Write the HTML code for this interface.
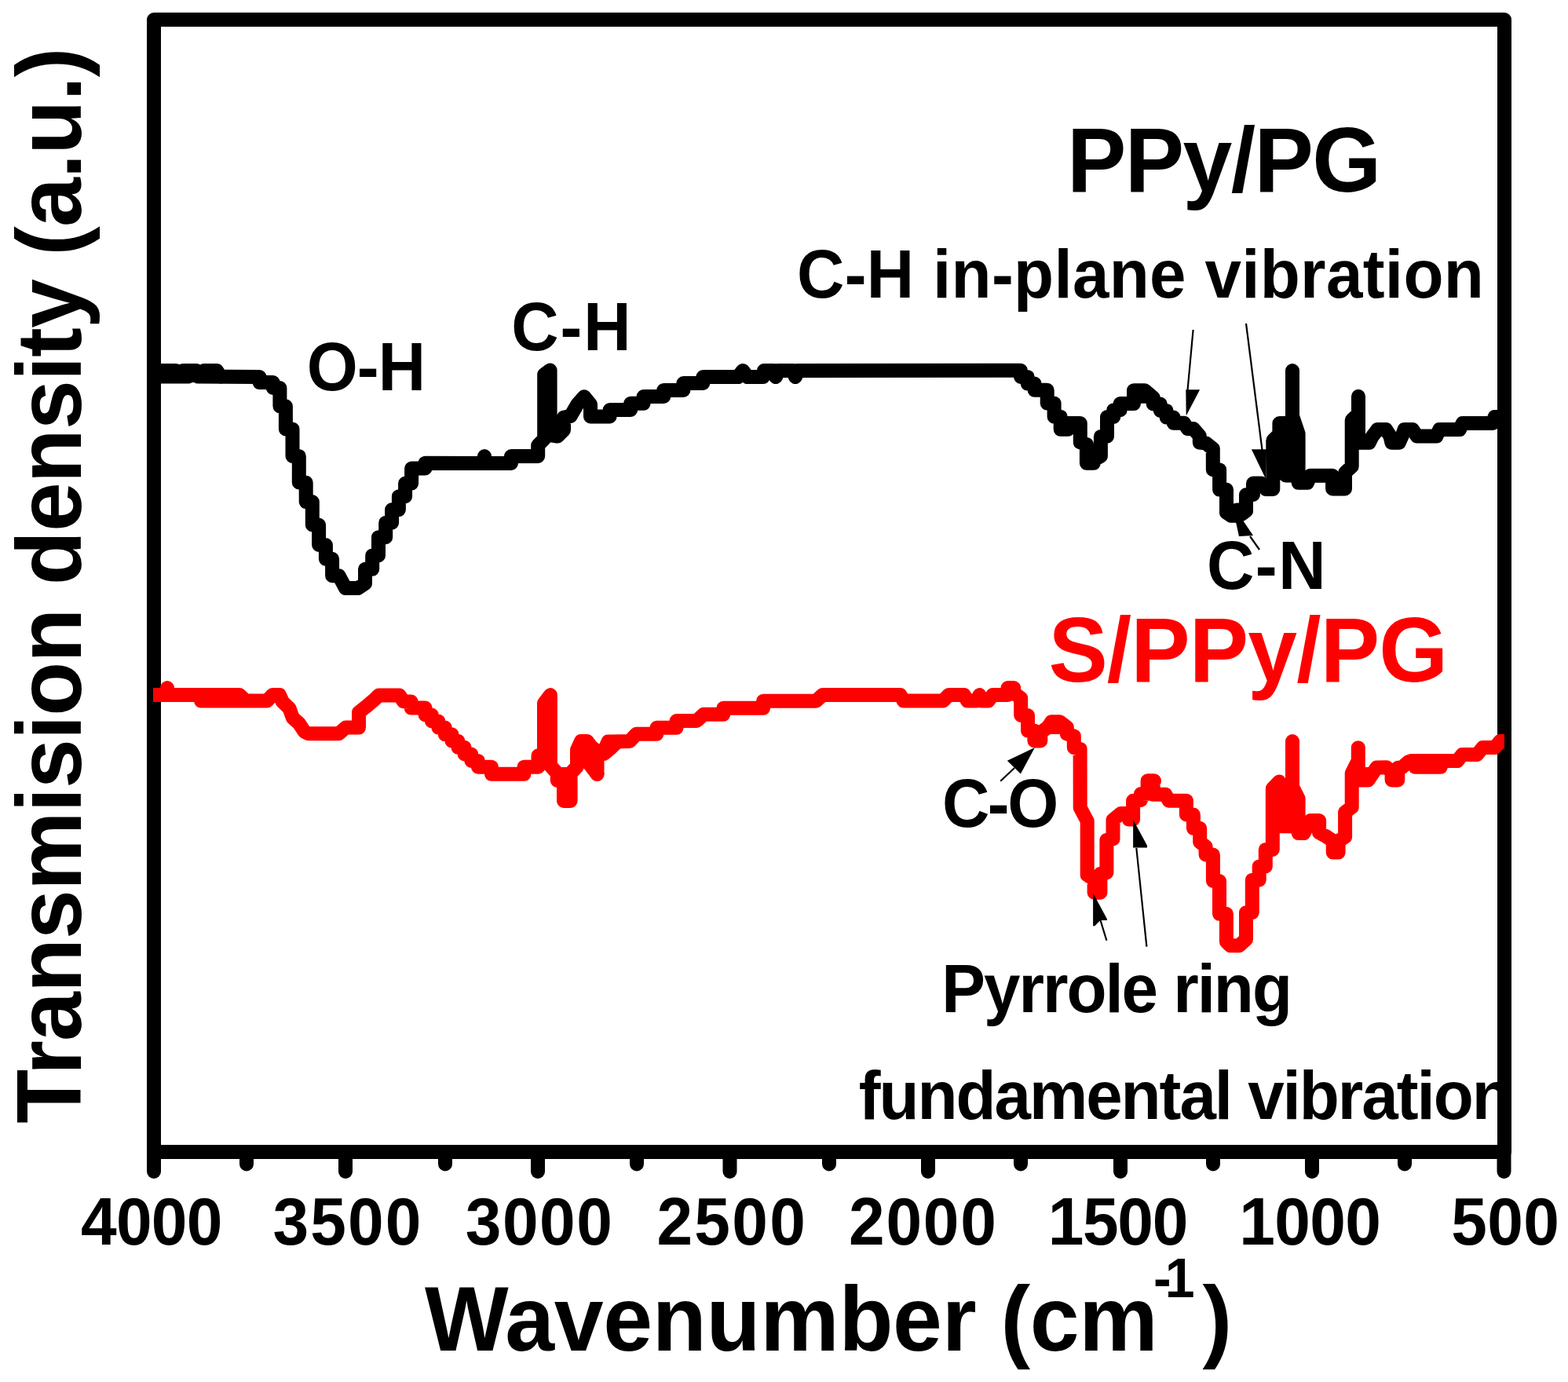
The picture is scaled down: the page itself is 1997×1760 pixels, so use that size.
<!DOCTYPE html><html><head><meta charset="utf-8"><title>FTIR spectra</title><style>html,body{margin:0;padding:0;background:#fff;overflow:hidden;}svg{display:block;}text{font-family:'Liberation Sans', Arial, sans-serif;font-weight:bold;}</style></head><body><svg width="1997" height="1760" viewBox="0 0 1997 1760"><rect x="0" y="0" width="1997" height="1760" fill="#fff"/><text transform="translate(1358.9,243.6) scale(0.966,1)" x="0" y="0" font-size="117" fill="#000" textLength="414.48" lengthAdjust="spacing">PPy/PG</text><text transform="translate(390.7,496.8) scale(0.966,1)" x="0" y="0" font-size="86.5" fill="#000" textLength="156.79" lengthAdjust="spacing">O-H</text><text transform="translate(651.3,445.7) scale(0.966,1)" x="0" y="0" font-size="86.5" fill="#000" textLength="157.56" lengthAdjust="spacing">C-H</text><text transform="translate(1015,378.8) scale(0.966,1)" x="0" y="0" font-size="86.5" fill="#000" textLength="905.59" lengthAdjust="spacing">C-H in-plane vibration</text><text transform="translate(1537,749.7) scale(0.966,1)" x="0" y="0" font-size="86.5" fill="#000" textLength="156.84" lengthAdjust="spacing">C-N</text><text transform="translate(1200,1052.5) scale(0.966,1)" x="0" y="0" font-size="86.5" fill="#000" textLength="153.37" lengthAdjust="spacing">C-O</text><text transform="translate(1199.3,1289) scale(0.966,1)" x="0" y="0" font-size="86.5" fill="#000" textLength="462.36" lengthAdjust="spacing">Pyrrole ring</text><text transform="translate(1093.7,1424.5) scale(0.966,1)" x="0" y="0" font-size="86.5" fill="#000" textLength="861.28" lengthAdjust="spacing">fundamental vibration</text><text transform="translate(1335.4,867.9) scale(0.966,1)" x="0" y="0" font-size="117" fill="#f00" textLength="526.56" lengthAdjust="spacing">S/PPy/PG</text><rect x="196" y="25" width="1720" height="1442" fill="none" stroke="#000" stroke-width="18" stroke-linejoin="round"/><line x1="196" y1="1467" x2="196" y2="1492" stroke="#000" stroke-width="18" stroke-linecap="round"/><line x1="440" y1="1467" x2="440" y2="1492" stroke="#000" stroke-width="18" stroke-linecap="round"/><line x1="685" y1="1467" x2="685" y2="1492" stroke="#000" stroke-width="18" stroke-linecap="round"/><line x1="929.5" y1="1467" x2="929.5" y2="1492" stroke="#000" stroke-width="18" stroke-linecap="round"/><line x1="1182" y1="1467" x2="1182" y2="1492" stroke="#000" stroke-width="18" stroke-linecap="round"/><line x1="1427" y1="1467" x2="1427" y2="1492" stroke="#000" stroke-width="18" stroke-linecap="round"/><line x1="1671" y1="1467" x2="1671" y2="1492" stroke="#000" stroke-width="18" stroke-linecap="round"/><line x1="1915.5" y1="1467" x2="1915.5" y2="1492" stroke="#000" stroke-width="18" stroke-linecap="round"/><line x1="314" y1="1467" x2="314" y2="1482.5" stroke="#000" stroke-width="18" stroke-linecap="round"/><line x1="567" y1="1467" x2="567" y2="1482.5" stroke="#000" stroke-width="18" stroke-linecap="round"/><line x1="811" y1="1467" x2="811" y2="1482.5" stroke="#000" stroke-width="18" stroke-linecap="round"/><line x1="1056" y1="1467" x2="1056" y2="1482.5" stroke="#000" stroke-width="18" stroke-linecap="round"/><line x1="1300" y1="1467" x2="1300" y2="1482.5" stroke="#000" stroke-width="18" stroke-linecap="round"/><line x1="1545" y1="1467" x2="1545" y2="1482.5" stroke="#000" stroke-width="18" stroke-linecap="round"/><line x1="1789" y1="1467" x2="1789" y2="1482.5" stroke="#000" stroke-width="18" stroke-linecap="round"/><text transform="translate(103,1585) scale(0.966,1)" x="0" y="0" font-size="85" fill="#000" textLength="186.77" lengthAdjust="spacing">4000</text><text transform="translate(347.4,1585) scale(0.966,1)" x="0" y="0" font-size="85" fill="#000" textLength="195.57" lengthAdjust="spacing">3500</text><text transform="translate(592.7,1585) scale(0.966,1)" x="0" y="0" font-size="85" fill="#000" textLength="193.81" lengthAdjust="spacing">3000</text><text transform="translate(836.4,1585) scale(0.966,1)" x="0" y="0" font-size="85" fill="#000" textLength="196.19" lengthAdjust="spacing">2500</text><text transform="translate(1081,1585) scale(0.966,1)" x="0" y="0" font-size="85" fill="#000" textLength="194.43" lengthAdjust="spacing">2000</text><text transform="translate(1334.8,1585) scale(0.966,1)" x="0" y="0" font-size="85" fill="#000" textLength="184.8" lengthAdjust="spacing">1500</text><text transform="translate(1578.3,1585) scale(0.966,1)" x="0" y="0" font-size="85" fill="#000" textLength="187.08" lengthAdjust="spacing">1000</text><text transform="translate(1848.2,1585) scale(0.966,1)" x="0" y="0" font-size="85" fill="#000" textLength="142.52" lengthAdjust="spacing">500</text><text transform="translate(541,1720) scale(0.966,1)" x="0" y="0" font-size="117" fill="#000" textLength="966.67" lengthAdjust="spacing">Wavenumber (cm</text><text transform="translate(1468.9,1651.6) scale(0.966,1)" x="0" y="0" font-size="70.5" fill="#000" textLength="54.5" lengthAdjust="spacing">-1</text><text transform="translate(1531.5,1720) scale(0.966,1)" x="0" y="0" font-size="117" fill="#000">)</text><text transform="translate(103,1430.8) rotate(-90) scale(0.966,1)" x="0" y="0" font-size="117" textLength="1418.51" lengthAdjust="spacing">Transmision density (a.u.)</text><defs><clipPath id="pc"><rect x="195" y="25" width="1721" height="1442"/></clipPath></defs><g clip-path="url(#pc)"><polyline points="190.0,472.0 224.0,472.0 228.5,477.0 233.0,472.0 250.0,472.0 255.0,477.0 260.0,472.0 276.0,472.0 281.0,479.5" fill="none" stroke="#000" stroke-width="18" stroke-linejoin="round" stroke-linecap="round"/><polyline points="190.0,479.5 240.0,479.5 246.0,476.0 252.0,479.5 330.5,480.0 330.5,487.1 347.7,487.1 347.7,494.0 356.4,494.0 356.4,517.3 363.9,517.3 363.9,546.4 372.5,546.4 372.5,580.9 380.8,580.9 380.8,614.5 389.7,614.5 389.7,639.1 397.8,639.1 397.8,668.5 406.1,668.5 406.1,694.0 414.9,694.0 414.9,711.8 423.1,711.8 423.1,733.2 431.6,733.2 440.0,749.0 456.0,749.0 465.0,743.0 465.0,724.8 474.2,724.8 474.2,707.4 482.0,707.4 482.0,684.2 491.2,684.2 491.2,665.7 499.1,665.7 499.1,649.1 507.9,649.1 507.9,632.2 516.1,632.2 516.1,615.6 524.1,615.6 524.1,596.5 541.5,596.5 541.5,589.7 617.0,590.0 617.0,581.0 617.0,590.0 651.0,590.0 651.0,581.0 685.2,581.0 685.2,567.0 693.2,559.0 693.2,477.0 700.6,471.5 700.6,554.0 710.0,555.5 718.0,547.6 718.0,531.6 726.6,530.0 735.3,515.0 744.0,505.3 752.0,515.0 752.0,530.5 772.0,530.5 776.6,530.5 776.6,522.0 803.2,522.0 803.2,513.8 819.6,513.8 819.6,505.0 845.2,505.0 845.2,497.0 870.4,497.0 870.4,488.0 895.4,488.0 895.4,480.0 940.0,480.0 946.0,472.0 952.0,480.0 972.0,480.0 973.0,472.0 985.0,472.0 988.0,480.0 991.0,472.0 1010.0,472.0 1013.0,480.0 1016.0,472.0 1270.0,471.8 1300.0,471.8 1300.0,479.9 1308.7,479.9 1308.7,488.6 1317.6,488.6 1317.6,496.8 1333.7,496.8 1333.7,513.6 1342.6,513.6 1342.6,530.7 1350.7,530.7 1350.7,546.8 1360.1,546.8 1360.1,539.1 1375.8,539.1 1375.8,563.3 1383.9,566.0 1383.9,589.8 1392.9,589.8 1392.9,586.0 1401.9,580.7 1401.9,555.9 1410.0,555.8 1410.0,531.0 1418.3,531.0 1418.3,522.2 1426.7,522.2 1426.7,514.1 1444.0,514.1 1444.0,497.2 1457.8,497.2 1468.7,506.3 1468.7,514.5 1477.8,514.5 1477.8,522.9 1485.6,522.9 1485.6,531.6 1494.7,531.6 1494.7,538.8 1507.9,538.8 1512.7,546.1 1520.0,546.1 1527.8,555.2 1527.8,563.6 1535.8,564.4 1544.8,571.6 1544.8,598.2 1553.1,598.2 1553.1,623.6 1562.0,623.6 1562.0,652.7 1568.0,656.7 1575.0,656.7 1581.0,655.0 1587.0,650.5 1587.0,630.0 1596.0,630.0 1596.0,615.5 1606.3,615.5 1612.5,622.9 1621.3,622.9 1621.3,561.0 1629.4,553.0 1629.4,539.0 1637.5,539.0 1637.5,605.5 1646.0,605.5 1646.0,472.0 1646.0,530.0 1653.6,552.5 1653.6,614.8 1665.0,614.8 1669.0,605.8 1697.1,605.8 1697.1,622.4 1713.0,622.4 1713.0,602.0 1721.7,594.0 1721.7,535.0 1730.0,527.0 1730.0,504.8 1730.0,563.5 1743.8,563.7 1747.6,556.1 1754.3,547.1 1765.2,547.1 1770.4,555.2 1772.4,563.7 1781.9,563.7 1785.7,555.2 1788.5,547.1 1799.0,547.1 1804.7,555.6 1829.4,555.6 1833.2,547.1 1858.9,547.1 1862.7,539.0 1900.8,539.0 1903.7,530.9 1911.3,530.9" fill="none" stroke="#000" stroke-width="18" stroke-linejoin="round" stroke-linecap="round"/><polyline points="1575.0,649.5 1587.0,649.5" fill="none" stroke="#000" stroke-width="18" stroke-linejoin="round" stroke-linecap="round"/><polyline points="1452.0,504.8 1461.0,504.8" fill="none" stroke="#000" stroke-width="18" stroke-linejoin="round" stroke-linecap="round"/><polyline points="185.0,885.0 213.0,885.0 213.0,876.0 213.0,885.0 305.0,885.0 313.0,892.6 340.0,892.6 347.0,885.0 356.0,885.0 359.7,893.6 368.5,902.1 372.9,914.3 380.8,921.3 387.8,931.9 393.0,934.3 431.6,934.3 440.4,926.6 457.0,926.6 457.0,907.3 465.8,900.3 475.4,892.2 482.4,885.6 508.7,885.6 514.0,893.3 523.6,893.5 523.6,901.6 541.6,901.6 541.6,910.5 549.9,910.5 549.9,918.5 558.4,918.5 558.4,926.6 566.8,926.6 566.8,935.3 575.5,935.3 575.5,943.7 583.4,943.7 583.4,951.8 591.6,951.8 591.6,960.5 600.3,960.5 600.3,968.9 608.9,968.9 608.9,976.7 625.9,976.7 625.9,985.8 667.5,985.8 667.5,976.7 685.5,976.7 685.5,962.2 693.0,961.5 693.0,895.6 700.9,885.1 700.9,975.0 709.8,985.0 709.8,994.0 718.0,994.0 718.0,1020.0 726.6,1020.0 726.6,985.0 735.0,976.0 735.0,955.0 740.0,944.0 747.7,944.0 753.0,951.0 760.5,957.0 760.5,985.8 760.5,960.0 769.0,957.0 774.5,944.5 778.6,944.5 802.0,943.9 810.4,934.8 836.4,934.8 836.4,926.8 861.6,926.8 861.6,918.0 887.3,918.0 896.1,909.8 921.3,909.8 921.3,901.8 972.1,901.8 972.1,892.7 1039.4,892.7 1047.8,884.9 1060.0,884.9 1146.6,885.1 1150.8,892.5 1201.2,892.5 1208.3,885.1 1227.9,885.1 1232.1,892.5 1243.3,892.5 1247.5,885.1 1250.3,892.5 1258.7,892.5 1264.3,885.1 1278.4,885.1 1283.5,885.0 1283.5,876.0 1291.2,876.0 1291.2,882.5 1300.2,889.3 1300.2,911.0 1309.0,911.0 1309.0,930.6 1317.4,930.6 1317.4,943.4 1325.3,943.4 1325.3,933.0 1334.7,926.1 1339.2,919.3 1349.7,919.3 1358.8,926.1 1358.8,934.5 1367.8,937.5 1367.8,952.0 1375.6,954.0 1375.7,1028.6 1384.7,1045.6 1384.7,1114.3 1393.6,1120.2 1393.6,1136.7 1401.4,1136.7 1401.4,1112.8 1409.4,1111.3 1409.4,1069.9 1417.5,1068.5 1417.5,1044.1 1427.3,1036.1 1435.6,1036.1 1437.8,1043.5 1443.1,1043.5 1443.1,1019.8 1453.0,1019.0 1453.0,1011.0 1461.6,1010.7 1461.6,994.3 1470.0,994.3 1468.7,994.9 1468.7,1011.8 1484.3,1011.8 1488.7,1019.7 1510.9,1019.7 1510.9,1037.5 1519.9,1037.5 1519.9,1054.8 1528.2,1054.8 1528.2,1072.3 1535.6,1078.2 1535.6,1088.5 1544.9,1088.5 1544.9,1122.0 1553.0,1122.0 1553.0,1163.8 1561.9,1163.8 1561.9,1199.3 1567.0,1204.3 1578.1,1204.3 1587.0,1196.3 1587.0,1162.1 1594.8,1162.1 1594.8,1120.7 1603.7,1120.7 1603.7,1103.4 1611.8,1103.4 1611.8,1081.9 1620.8,1081.9 1620.8,1004.3 1629.2,995.5 1629.2,1048.6 1632.0,1052.3 1640.0,1052.3 1646.0,1052.4 1646.0,944.1 1646.0,1002.0 1653.6,1017.1 1653.6,1061.1 1660.4,1061.1 1669.1,1045.0 1680.1,1045.0 1680.1,1060.3 1688.0,1064.6 1697.7,1071.1 1697.7,1085.6 1704.6,1085.6 1704.6,1071.1 1713.1,1065.7 1713.1,1034.4 1721.7,1027.9 1721.7,984.8 1729.8,968.6 1729.8,952.2 1729.8,993.6 1742.5,993.6 1747.9,985.5 1753.3,977.5 1765.9,977.2 1772.6,983.1 1772.6,993.5 1780.3,993.5 1780.3,977.7 1785.7,977.2 1793.4,970.5 1797.0,969.1 1807.8,969.1 1856.0,969.1 1862.3,961.0 1881.2,961.0 1888.4,952.0 1903.8,952.0 1910.5,943.9 1931.3,943.9" fill="none" stroke="#f00" stroke-width="18" stroke-linejoin="round" stroke-linecap="round"/><polyline points="256.0,892.6 310.0,892.6" fill="none" stroke="#f00" stroke-width="18" stroke-linejoin="round" stroke-linecap="round"/><polyline points="1802.4,976.8 1834.8,976.8" fill="none" stroke="#f00" stroke-width="18" stroke-linejoin="round" stroke-linecap="round"/><polyline points="1731.0,986.0 1745.0,986.0" fill="none" stroke="#f00" stroke-width="18" stroke-linejoin="round" stroke-linecap="round"/><polyline points="1334.7,926.1 1350.0,926.1" fill="none" stroke="#f00" stroke-width="18" stroke-linejoin="round" stroke-linecap="round"/><polyline points="712.0,986.0 724.0,986.0" fill="none" stroke="#f00" stroke-width="18" stroke-linejoin="round" stroke-linecap="round"/><polyline points="769.0,960.0 778.0,952.5 786.0,945.0" fill="none" stroke="#f00" stroke-width="18" stroke-linejoin="round" stroke-linecap="round"/><polyline points="744.0,955.0 750.0,972.0 760.5,985.8" fill="none" stroke="#f00" stroke-width="18" stroke-linejoin="round" stroke-linecap="round"/></g><line x1="1519.6" y1="420" x2="1512.5" y2="497" stroke="#000" stroke-width="2.2"/><polygon points="1510.3,496.3 1528.1,496.3 1510.7,529.6" fill="#000"/><line x1="1587" y1="412" x2="1607.5" y2="573" stroke="#000" stroke-width="2.2"/><polygon points="1593.9,572.2 1613.0,572.2 1612.0,609.7" fill="#000"/><line x1="1604" y1="700" x2="1592" y2="683" stroke="#000" stroke-width="2.2"/><polygon points="1569.0,642.0 1578.0,683.0 1596.0,682.0" fill="#000"/><line x1="1274.2" y1="994.7" x2="1292" y2="978" stroke="#000" stroke-width="2.2"/><polygon points="1282.8,968.8 1299.9,985.4 1317.9,952.1" fill="#000"/><line x1="1409.4" y1="1197.7" x2="1401.5" y2="1172" stroke="#000" stroke-width="2.2"/><polygon points="1392.1,1137.3 1410.0,1170.4 1410.0,1172.0 1401.5,1172.0 1394.2,1179.3 1392.1,1179.3" fill="#000"/><line x1="1460.4" y1="1205.6" x2="1447.3" y2="1080" stroke="#000" stroke-width="2.2"/><polygon points="1443.1,1043.7 1461.0,1076.8 1461.0,1079.4 1443.1,1079.4" fill="#000"/></svg></body></html>
